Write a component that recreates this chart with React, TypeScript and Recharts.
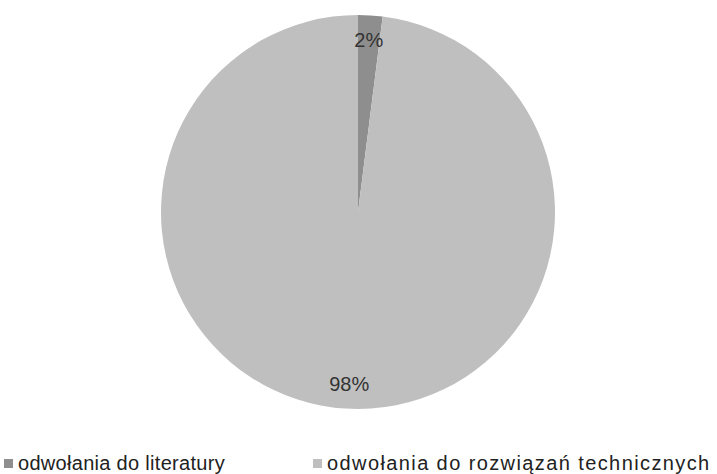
import { Legend, Pie, PieChart, Cell } from 'recharts';

const categories = ['odwołania do literatury', 'odwołania do rozwiązań technicznych'];
const shares = [2, 98];
const labels = ['2%', '98%'];

const COLORS = ['#8e8e8e', '#bfbfbf'];
const FONT = '"Liberation Sans", Arial, sans-serif';

const data = categories.map((name, i) => ({ name, value: shares[i], label: labels[i] }));

const RAD = Math.PI / 180;

function renderLabel(props: any) {
  const { cx, cy, midAngle, index } = props;
  const r = 172;
  const x = cx + r * Math.cos(-midAngle * RAD);
  const y = cy + r * Math.sin(-midAngle * RAD);
  return (
    <text x={x + (index === 0 ? 0 : 2)} y={y} fill="#333" fontSize={20} fontFamily={FONT}
      textAnchor="middle" dominantBaseline="central">
      {data[index].label}
    </text>
  );
}

function LegendBox() {
  const left = [4, 313];
  const spacing = [0.3, 1.4];
  return (
    <div style={{ position: 'relative', height: 30, fontFamily: FONT, fontSize: 20, color: '#222' }}>
      {data.map((d, i) => (
        <div key={d.name} style={{ position: 'absolute', left: left[i], top: 0, display: 'flex', alignItems: 'center', whiteSpace: 'nowrap' }}>
          <span style={{ display: 'inline-block', width: 9, height: 9, background: COLORS[i], marginRight: 5 }} />
          <span style={{ letterSpacing: spacing[i] }}>{d.name}</span>
        </div>
      ))}
    </div>
  );
}

export default function App() {
  return (
    <div style={{ position: 'absolute', left: 0, top: 0, background: '#fff' }}>
      <PieChart width={717} height={474} margin={{ top: 0, right: 0, bottom: 0, left: 0 }}>
        <Pie data={data} dataKey="value" nameKey="name" cx={358} cy={212} outerRadius={197}
          startAngle={90} endAngle={-270} stroke="none" label={renderLabel} labelLine={false}
          isAnimationActive={false}>
          {data.map((d, i) => <Cell key={d.name} fill={COLORS[i]} />)}
        </Pie>
        <Legend verticalAlign="bottom" wrapperStyle={{ left: 0, bottom: -8, width: 717 }} content={() => <LegendBox />} />
      </PieChart>
    </div>
  );
}
